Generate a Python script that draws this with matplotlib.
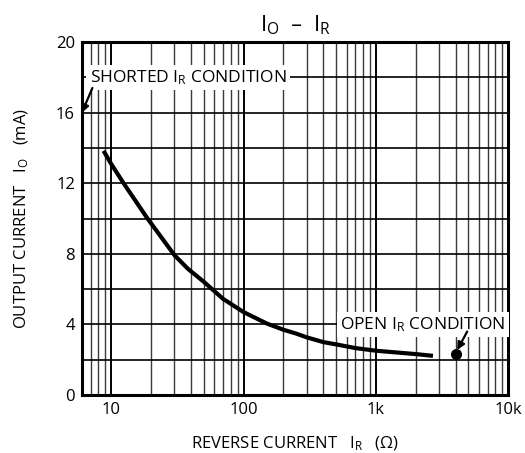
import numpy as np
import matplotlib.pyplot as plt
from matplotlib.ticker import FixedLocator, NullFormatter

# curve (reverse current in ohm, output current in mA)
ir_vals = [8.75, 10, 12.4, 18.8, 20, 30, 38, 50, 70, 100, 150, 200, 250,
           300, 400, 500, 700, 1000, 2000, 2700]
io_vals = [13.84, 13.09, 12.0, 10.0, 9.73, 7.93, 7.15, 6.42, 5.45, 4.7, 4.05, 3.7, 3.48,
           3.27, 3.0, 2.87, 2.66, 2.51, 2.32, 2.22]
# open condition point
open_x = [4000]
open_y = [2.3]
# shorted condition value (at the left edge)
short_y = 16

x_ticks = [10, 100, 1000, 10000]
x_ticklabels = ["10", "100", "1k", "10k"]
y_ticks = [0, 4, 8, 12, 16, 20]

plt.rcParams['font.family'] = ['Open Sans', 'DejaVu Sans']
plt.rcParams['mathtext.default'] = 'regular'

fig = plt.figure(figsize=(5.25, 4.53), dpi=100)
ax = fig.add_axes([0.156, 0.128, 0.812, 0.779])
ax.set_xscale('log')
ax.set_xlim(6, 10000)
ax.set_ylim(0, 20)

# grid: decades heavy, the rest thin
minor = [m * 10 ** d for d in range(0, 4) for m in range(2, 10)]
minor = [v for v in minor if 6 <= v < 10000]
ax.xaxis.set_minor_locator(FixedLocator(minor))
ax.xaxis.set_minor_formatter(NullFormatter())
ax.set_xticks(x_ticks, x_ticklabels)
ax.set_yticks(y_ticks)
ax.yaxis.set_minor_locator(FixedLocator(np.arange(2, 20, 4)))
ax.grid(which='major', axis='x', color='black', lw=1.4)
ax.grid(which='minor', axis='x', color='#3a3a3a', lw=1.0)
ax.grid(which='both', axis='y', color='black', lw=1.2)
ax.tick_params(which='both', length=0, labelsize=12, pad=5)
for s in ax.spines.values():
    s.set_linewidth(2.2)

ax.plot(ir_vals, io_vals, color='black', lw=3, solid_capstyle='butt',
        solid_joinstyle='round', zorder=3)
ax.plot(open_x, open_y, 'o', color='black', ms=7, zorder=4)

ax.text(6.9, 18, "SHORTED I$_R$ CONDITION", fontsize=12.5, va='center', ha='left',
        bbox=dict(facecolor='white', edgecolor='none', pad=2.5), zorder=5)
ax.annotate("", xy=(6, short_y), xytext=(7.2, 17.4),
            arrowprops=dict(arrowstyle='-|>', color='black', lw=1.6, mutation_scale=11,
                            shrinkA=0, shrinkB=0),
            zorder=6)

ax.text(540, 4, "OPEN I$_R$ CONDITION", fontsize=12.5, va='center', ha='left',
        bbox=dict(facecolor='white', edgecolor='none', pad=2.5), zorder=5)
ax.annotate("", xy=(open_x[0] * 1.03, open_y[0] + 0.25), xytext=(4900, 3.6),
            arrowprops=dict(arrowstyle='-|>', color='black', lw=1.6, mutation_scale=11,
                            shrinkA=0, shrinkB=0),
            zorder=6)

ax.set_title("I$_O$  –  I$_R$", fontsize=16, pad=8)
ax.set_xlabel("REVERSE CURRENT   I$_R$   ($\\Omega$)", fontsize=12, labelpad=12)
ax.set_ylabel("OUTPUT CURRENT   I$_O$   (mA)", fontsize=12, labelpad=18)

fig.savefig("out.png", dpi=100)
